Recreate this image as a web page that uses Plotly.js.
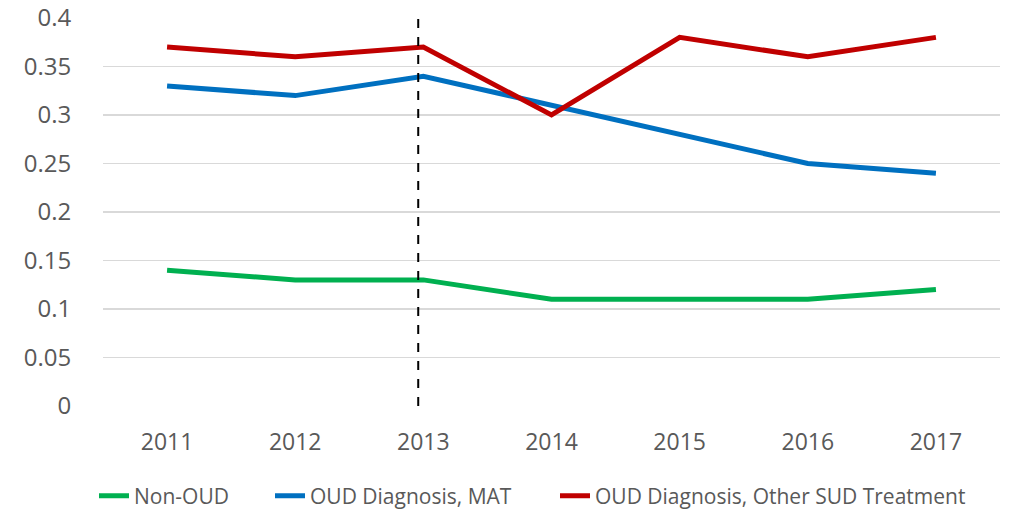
<!DOCTYPE html>
<html><head><meta charset="utf-8">
<script src="https://cdn.plot.ly/plotly-3.0.1.min.js"></script>
<style>html,body{margin:0;padding:0;background:#fff}#c{width:1010px;height:513px}</style>
</head><body><div id="c"></div>
<script>
const years = [2011,2012,2013,2014,2015,2016,2017];
const yearLabels = ['2011','2012','2013','2014','2015','2016','2017'];
const nonOud = [0.14,0.13,0.13,0.11,0.11,0.11,0.12];
const oudMat = [0.33,0.32,0.34,0.31,0.28,0.25,0.24];
const oudOther = [0.37,0.36,0.37,0.30,0.38,0.36,0.38];
const seriesNames = ['Non-OUD','OUD Diagnosis, MAT','OUD Diagnosis, Other SUD Treatment'];
const colors = ['#00B050','#0070C0','#C00000'];
const yTicks = [0,0.05,0.1,0.15,0.2,0.25,0.3,0.35,0.4];
const yTickText = ['0','0.05','0.1','0.15','0.2','0.25','0.3','0.35','0.4'];
const markerYear = 2013;

const font = "'Open Sans', sans-serif";
const legendIds = ['legend','legend2','legend3'];
const legendLeft = [94, 270, 555];
const data = [nonOud, oudMat, oudOther].map((v,i)=>({
  x: years, y: v, type:'scatter', mode:'lines', name: seriesNames[i],
  line:{color:colors[i], width:5}, legend: legendIds[i]
}));
const layout = {
  width:1010, height:513,
  margin:{l:103, r:10, t:18, b:107},
  paper_bgcolor:'#fff', plot_bgcolor:'#fff',
  font:{family:font, color:'#595959'},
  xaxis:{type:'linear', range:[2010.5,2017.5], tickvals:years, ticktext:yearLabels,
    showgrid:false, zeroline:false, showline:false, ticks:'outside', ticklen:15, tickcolor:'rgba(0,0,0,0)',
    tickfont:{size:23, color:'#595959'}, automargin:false},
  yaxis:{range:[0,0.4], tickvals:yTicks, ticktext:yTickText, showgrid:true,
    gridcolor:'#D9D9D9', gridwidth:1.5, zeroline:false, showline:false,
    tickfont:{size:24, color:'#595959'}, ticks:'outside', ticklen:26, tickcolor:'rgba(0,0,0,0)', automargin:false},
  showlegend:true,
  shapes:[{type:'line', xref:'x', yref:'y', x0:markerYear-0.04, x1:markerYear-0.04, y0:0, y1:0.408,
    line:{color:'#000', width:2, dash:'dash'}}]
};
legendIds.forEach((id,i)=>{
  layout[id] = {orientation:'h', xref:'container', x:legendLeft[i]/1010, xanchor:'left',
    yref:'container', y:0.033, yanchor:'middle', font:{size:21, color:'#595959'},
    bgcolor:'rgba(0,0,0,0)'};
});
Plotly.newPlot('c', data, layout, {displayModeBar:false, staticPlot:true});
</script></body></html>
